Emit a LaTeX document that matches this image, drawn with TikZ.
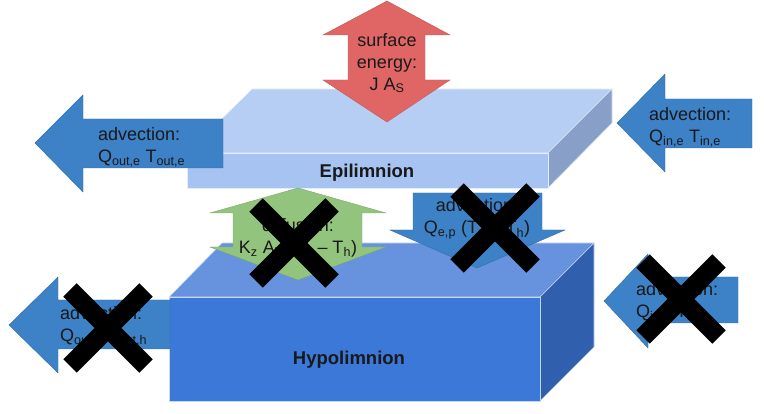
\documentclass[tikz,border=0pt]{standalone}
\usepackage{fontspec}
\setmainfont{Liberation Sans}
\definecolor{epitop}{HTML}{B7CEF4}
\definecolor{epifront}{HTML}{A6C3F1}
\definecolor{episide}{HTML}{889FC8}
\definecolor{hypotop}{HTML}{6792DD}
\definecolor{hypofront}{HTML}{3C78D8}
\definecolor{hyposide}{HTML}{305FAE}
\definecolor{advblue}{HTML}{3D81C6}
\definecolor{heatred}{HTML}{E06666}
\definecolor{diffgreen}{HTML}{93C47D}

\begin{document}
\begin{tikzpicture}[x=1pt,y=-1pt,
    face/.style={draw=white!70!#1, line width=0.6pt, fill=#1},
    flow/.style={fill=#1, draw=#1!85!black, line width=0.4pt},
    txt/.style={inner sep=0pt, align=left, text=black!90, font=\fontsize{18}{22}\selectfont},
    layer/.style={inner sep=0pt, text=black!90, font=\fontsize{18.5}{22}\selectfont\bfseries},
    cross/.style={line width=19pt, black}]
  \useasboundingbox (0,0) rectangle (764,414);

  % hypolimnion block
  \coordinate (h1) at (169,297); \coordinate (h2) at (540,297);
  \coordinate (h3) at (540,401); \coordinate (h4) at (169,401);
  \coordinate (h5) at (222,243); \coordinate (h6) at (594,243);
  \coordinate (h7) at (594,347);
  \filldraw[face=hypotop] (h1) -- (h5) -- (h6) -- (h2) -- cycle;
  \filldraw[face=hyposide] (h2) -- (h6) -- (h7) -- (h3) -- cycle;
  \filldraw[face=hypofront] (h1) -- (h2) -- (h3) -- (h4) -- cycle;

  % epilimnion block
  \coordinate (e1) at (187,153); \coordinate (e2) at (548,153);
  \coordinate (e3) at (548,188); \coordinate (e4) at (187,188);
  \coordinate (e5) at (252,89);  \coordinate (e6) at (612,89);
  \coordinate (e7) at (612,123);
  \filldraw[face=epitop] (e1) -- (e5) -- (e6) -- (e2) -- cycle;
  \filldraw[face=episide] (e2) -- (e6) -- (e7) -- (e3) -- cycle;
  \filldraw[face=epifront] (e1) -- (e2) -- (e3) -- (e4) -- cycle;

  % surface energy
  \filldraw[flow=heatred] (387,1) -- (450,35) -- (425,35) -- (425,80) -- (450,80)
    -- (387,122) -- (323,80) -- (348,80) -- (348,35) -- (323,35) -- cycle;

  % advection arrows
  \filldraw[flow=advblue] (35,143) -- (83,95) -- (83,119) -- (223,119)
    -- (223,168) -- (83,168) -- (83,192) -- cycle;
  \filldraw[flow=advblue] (617,123) -- (665,74) -- (665,99) -- (752,99)
    -- (752,148) -- (665,148) -- (665,172) -- cycle;
  \filldraw[flow=advblue] (9,325) -- (58,277) -- (58,300) -- (170,300)
    -- (170,349) -- (58,349) -- (58,373) -- cycle;
  \filldraw[flow=advblue] (604,301) -- (648,254) -- (648,277) -- (738,277)
    -- (738,323) -- (648,323) -- (648,348) -- cycle;

  % exchange between layers
  \filldraw[flow=diffgreen] (298,188) -- (386,213) -- (362,213) -- (362,247)
    -- (386,247) -- (298,280) -- (210,247) -- (233,247) -- (233,213) -- (210,213) -- cycle;
  \filldraw[flow=advblue] (413,193) -- (542,193) -- (542,230) -- (565,230)
    -- (477,268) -- (390,230) -- (413,230) -- cycle;

  % texts
  \node (surf) [txt, align=center] at (387,63) {surface\\energy:\\J A\textsubscript{S}};
  \node (outE) [txt, anchor=west] at (98,147) {advection:\\Q\textsubscript{out,e} T\textsubscript{out,e}};
  \node (inE) [txt, anchor=west] at (649,127) {advection:\\Q\textsubscript{in,e} T\textsubscript{in,e}};
  \node (outH) [txt, anchor=west] at (60,326) {advection:\\Q\textsubscript{out,h} T\textsubscript{out,h}};
  \node (inH) [txt, anchor=west] at (636,302) {advection:\\Q\textsubscript{in,h} T\textsubscript{in,h}};
  \node (diff) [txt, align=center] at (298,238) {diffusion:\\K\textsubscript{z} A\textsubscript{T} (T\textsubscript{e} – T\textsubscript{h})};
  \node (entr) [txt, align=center] at (477,219) {advection:\\Q\textsubscript{e,p} (T\textsubscript{e} – T\textsubscript{h})};
  \node (epi) [layer] at (367,173) {Epilimnion};
  \node (hypo) [layer] at (349,360) {Hypolimnion};

  % crossed out fluxes
  \foreach \cx/\cy in {294/243, 495/228, 108/328, 681/299}
    \draw[cross] (\cx-38,\cy-38) -- (\cx+38,\cy+38) (\cx+38,\cy-38) -- (\cx-38,\cy+38);
\end{tikzpicture}
\end{document}
